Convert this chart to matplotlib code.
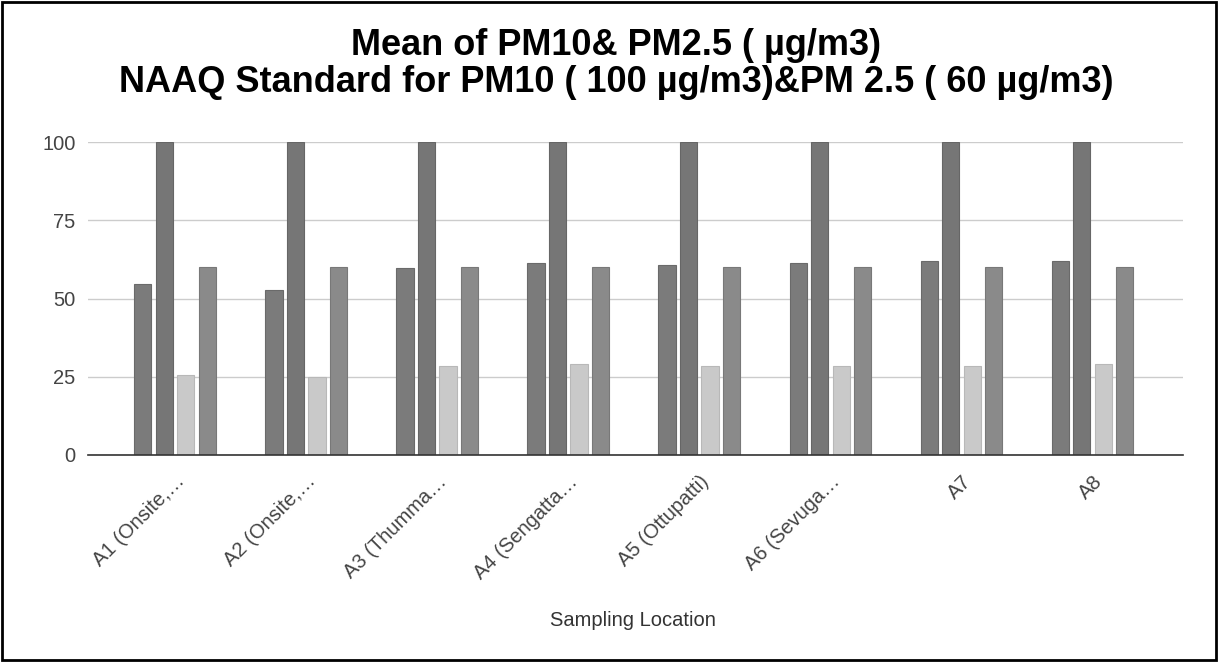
import matplotlib
matplotlib.use("Agg")
import matplotlib.pyplot as plt
import matplotlib.transforms as mtransforms
from matplotlib.patches import Rectangle
import numpy as np

plt.rcParams['font.family'] = ['Liberation Sans', 'DejaVu Sans']

# data
locations = ["A1 (Onsite,…", "A2 (Onsite,…", "A3 (Thumma…", "A4 (Sengatta…",
             "A5 (Ottupatti)", "A6 (Sevuga…", "A7", "A8"]
pm10 = [54.6, 52.8, 59.6, 61.3, 60.7, 61.3, 62.0, 62.0]
naaq_pm10 = [100, 100, 100, 100, 100, 100, 100, 100]
pm25 = [25.6, 25.0, 28.4, 29.0, 28.5, 28.5, 28.4, 29.0]
naaq_pm25 = [60, 60, 60, 60, 60, 60, 60, 60]
yticks = [0, 25, 50, 75, 100]

series = [pm10, naaq_pm10, pm25, naaq_pm25]
colors = ["#7b7b7b", "#767676", "#c9c9c9", "#8a8a8a"]
edges = ["#6a6a6a", "#666666", "#b8b8b8", "#787878"]

fig = plt.figure(figsize=(12.18, 6.62), dpi=100)
ax = fig.add_axes([88 / 1218, 1 - 455 / 662, (1183 - 88) / 1218, (455 - 142) / 662])

x = np.arange(len(locations))
width = 0.132
step = 0.164
for i, (vals, c, ec) in enumerate(zip(series, colors, edges)):
    ax.bar(x + (i - 1.5) * step, vals, width, color=c, edgecolor=ec, linewidth=0.8, zorder=3)

ax.set_xlim(-0.664, 7.69)
ax.set_ylim(0, 100)
ax.set_yticks(yticks)
ax.set_yticklabels([str(t) for t in yticks], fontsize=14.5, color="#444444")
ax.grid(axis="y", color="#cccccc", linewidth=1, zorder=0)
ax.set_axisbelow(True)

ax.set_xticks(x)
ax.set_xticklabels(locations, rotation=45, ha="right", va="top", rotation_mode="anchor",
                   fontsize=14.5, color="#444444")
shift = mtransforms.ScaledTranslation(12 / 100, 0, fig.dpi_scale_trans)
for lbl in ax.get_xticklabels():
    lbl.set_transform(lbl.get_transform() + shift)
ax.tick_params(axis="y", length=0, pad=9)
ax.tick_params(axis="x", length=0, pad=12)

for s in ["top", "right", "left"]:
    ax.spines[s].set_visible(False)
ax.spines["bottom"].set_color("#333333")
ax.spines["bottom"].set_linewidth(1.2)
ax.spines["bottom"].set_zorder(4)

fig.text(633 / 1218, 1 - 621 / 662, "Sampling Location", ha="center", va="center",
         fontsize=14.5, color="#333333")
fig.text(616 / 1218, 1 - 64 / 662,
         "Mean of PM10& PM2.5 ( µg/m3)\nNAAQ Standard for PM10 ( 100 µg/m3)&PM 2.5 ( 60 µg/m3)",
         ha="center", va="center", fontsize=26, fontweight="bold", linespacing=1.05)

# outer border
fig.patches.append(Rectangle((0.002, 0.003), 0.996, 0.994, transform=fig.transFigure,
                             fill=False, edgecolor="black", linewidth=2))

fig.savefig("out.png", dpi=100)
